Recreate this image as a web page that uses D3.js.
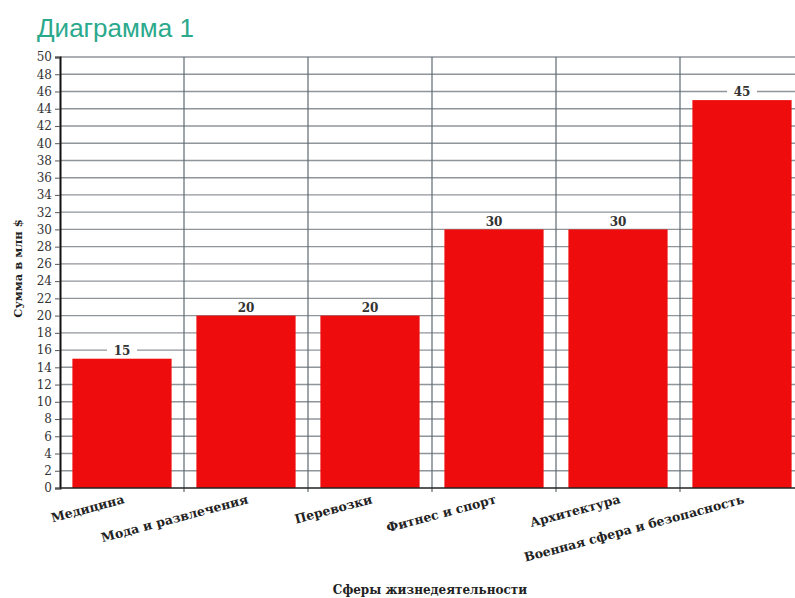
<!DOCTYPE html>
<html>
<head>
<meta charset="utf-8">
<script src="https://cdn.jsdelivr.net/npm/d3@7"></script>
<style>
  html, body { margin: 0; padding: 0; background: #fff; }
  svg { display: block; }
</style>
</head>
<body>
<svg id="chart" width="795" height="598"></svg>
<script>
// Sums by sphere of activity, million $
const categories = ["Медицина", "Мода и развлечения", "Перевозки", "Фитнес и спорт", "Архитектура", "Военная сфера и безопасность"];
const values = [15, 20, 20, 30, 30, 45];
const yTicks = d3.range(0, 51, 2);

const titleText = "Диаграмма 1";
const yTitle = "Сумма в млн $";
const xTitle = "Сферы жизнедеятельности";

const svg = d3.select("#chart");
const serif = "'DejaVu Serif', 'Liberation Serif', serif";

const plot = { left: 60, right: 804, top: 57, bottom: 488 };

const x = d3.scaleBand()
  .domain(categories)
  .range([plot.left, plot.right])
  .paddingInner(0.2)
  .paddingOuter(0.1);

const y = d3.scaleLinear().domain([0, 50]).range([plot.bottom, plot.top]);

// Title
svg.append("text")
  .attr("x", 37).attr("y", 37)
  .attr("font-family", "'Liberation Sans', Arial, sans-serif")
  .attr("font-size", 26)
  .attr("fill", "#2ba98c")
  .text(titleText);

// Horizontal grid
svg.append("g")
  .selectAll("line")
  .data(yTicks.filter(d => d > 0))
  .join("line")
  .attr("x1", plot.left).attr("x2", 795)
  .attr("y1", d => y(d)).attr("y2", d => y(d))
  .attr("stroke", "#90959a")
  .attr("stroke-width", 1.4);

// Vertical separators between categories
const step = x.step();
const bounds = categories.map(c => x(c) - x.paddingOuter() * step);
svg.append("g")
  .selectAll("line")
  .data(bounds.slice(1))
  .join("line")
  .attr("x1", d => d).attr("x2", d => d)
  .attr("y1", plot.top).attr("y2", plot.bottom + 4)
  .attr("stroke", "#5f6a70")
  .attr("stroke-width", 1.2);

// Bars
svg.append("g")
  .selectAll("rect")
  .data(values)
  .join("rect")
  .attr("x", (d, i) => x(categories[i]))
  .attr("y", d => y(d))
  .attr("width", x.bandwidth())
  .attr("height", d => y(0) - y(d))
  .attr("fill", "#ee0c0c");

// Value labels with white backing
const lbl = svg.append("g")
  .selectAll("g")
  .data(values)
  .join("g")
  .attr("transform", (d, i) => `translate(${x(categories[i]) + x.bandwidth() / 2},${y(d) - 8})`);
lbl.append("rect")
  .attr("x", -15).attr("y", -8)
  .attr("width", 30).attr("height", 14)
  .attr("fill", "#fff");
lbl.append("text")
  .attr("text-anchor", "middle")
  .attr("dy", "0.35em")
  .attr("font-family", serif)
  .attr("font-size", 12)
  .attr("font-weight", "bold")
  .attr("fill", "#333")
  .text(d => d);

// Y axis
const yAxis = svg.append("g")
  .attr("transform", `translate(${plot.left},0)`)
  .call(d3.axisLeft(y).tickValues(yTicks).tickSize(5).tickPadding(3));
yAxis.select(".domain").attr("stroke", "#111").attr("stroke-width", 2);
yAxis.selectAll(".tick line").attr("stroke", "#555");
yAxis.selectAll(".tick text")
  .attr("font-family", serif)
  .attr("font-size", 12)
  .attr("fill", "#333");

// X axis baseline
svg.append("line")
  .attr("x1", plot.left).attr("x2", 795)
  .attr("y1", plot.bottom).attr("y2", plot.bottom)
  .attr("stroke", "#222").attr("stroke-width", 1.5);

// Category labels, rotated
svg.append("g")
  .selectAll("text")
  .data(categories)
  .join("text")
  .attr("transform", d => `translate(${x(d) + x.bandwidth() / 2 + 3},${plot.bottom + 15}) rotate(-15)`)
  .attr("text-anchor", "end")
  .attr("font-family", serif)
  .attr("font-size", 12.5)
  .attr("font-weight", "bold")
  .attr("fill", "#222")
  .text(d => d);

// Axis titles
svg.append("text")
  .attr("transform", `translate(22,${(plot.top + plot.bottom) / 2 - 4}) rotate(-90)`)
  .attr("text-anchor", "middle")
  .attr("font-family", serif)
  .attr("font-size", 11.5)
  .attr("font-weight", "bold")
  .attr("fill", "#222")
  .text(yTitle);

svg.append("text")
  .attr("x", 430).attr("y", 594)
  .attr("text-anchor", "middle")
  .attr("font-family", serif)
  .attr("font-size", 12)
  .attr("font-weight", "bold")
  .attr("fill", "#222")
  .text(xTitle);
</script>
</body>
</html>
